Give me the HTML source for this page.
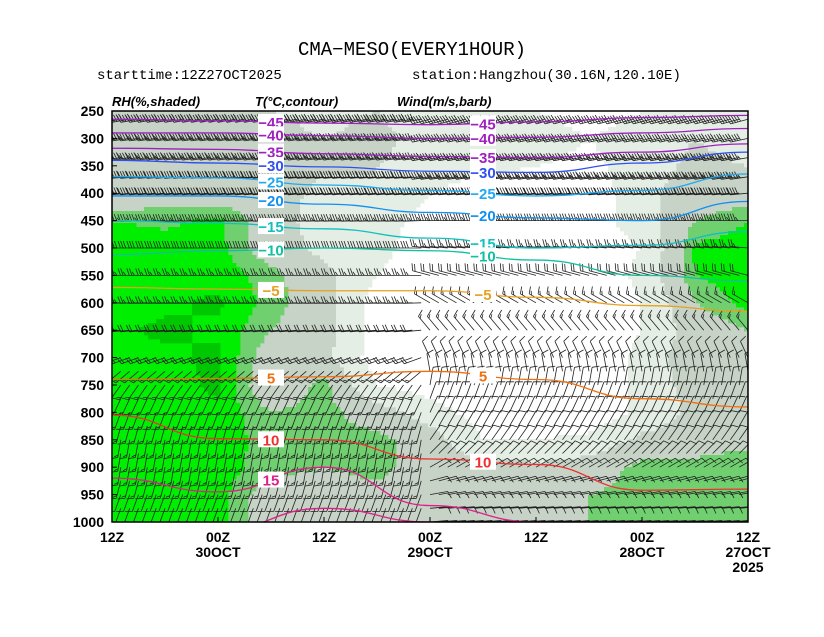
<!DOCTYPE html>
<html><head><meta charset="utf-8"><style>
body{margin:0;background:#fff;width:824px;height:637px;overflow:hidden}
svg{display:block}
text{font-family:"Liberation Mono",monospace}
.b{font-family:"Liberation Sans",sans-serif;font-weight:bold}
</style></head><body>
<svg id="c" width="824" height="637">
<defs><clipPath id="pc"><rect x="112" y="111" width="636" height="411"/></clipPath></defs>
<text x="412" y="55" text-anchor="middle" font-size="19">CMA−MESO(EVERY1HOUR)</text>
<text x="97" y="79" font-size="14">starttime:12Z27OCT2025</text>
<text x="412" y="79" font-size="14">station:Hangzhou(30.16N,120.10E)</text>
<text x="112" y="106" font-size="13" font-style="italic" class="b">RH(%,shaded)</text>
<text x="255" y="106" font-size="13" font-style="italic" class="b">T(°C,contour)</text>
<text x="397" y="106" font-size="13" font-style="italic" class="b">Wind(m/s,barb)</text>
<g clip-path="url(#pc)">
<g id="shade"></g>
<g id="barbs"></g>
<g id="cont"></g>
</g>
<rect x="112" y="111" width="636" height="411" fill="none" stroke="#000" stroke-width="1.5"/>
<g id="axes"></g>
</svg>
<script>
const levels=[250,300,350,400,450,500,550,600,650,700,750,800,850,900,950,1000];
const xTickLabels=[["12Z",""],["00Z","30OCT"],["12Z",""],["00Z","29OCT"],["12Z",""],["00Z","28OCT"],["12Z","27OCT","2025"]];
const rhHours=[72,66,60,54,48,42,36,30,24,18,12,6,0];
const rh=[
[50,60,55,55,80,85,86,86,88,86,86,86,86,85,85,85],
[50,60,55,60,78,84,86,88,92,88,86,86,86,85,85,85],
[55,55,55,60,82,84,86,92,88,92,92,88,86,85,85,85],
[50,60,72,65,60,60,75,75,70,60,55,70,75,75,60,60],
[40,50,55,40,40,45,55,60,60,55,75,75,75,70,60,60],
[50,60,50,50,40,35,30,20,20,20,30,60,75,75,65,60],
[30,35,40,30,20,20,20,20,20,20,20,40,60,60,60,60],
[40,45,35,20,20,20,20,15,15,15,15,20,30,60,60,55],
[30,40,30,20,20,20,20,15,15,15,15,15,30,55,60,60],
[20,30,25,15,20,20,15,15,15,15,15,15,35,60,70,70],
[30,40,40,45,40,30,35,30,30,35,35,35,55,75,75,70],
[40,50,55,60,70,82,80,70,60,65,60,55,60,75,80,70],
[35,40,50,60,80,86,86,84,70,70,70,60,65,80,80,75]];
const tHours=[0,12,24,36,48,60,72];
const tLevels=[-45,-40,-35,-30,-25,-20,-15,-10,-5,5,10,15,20];
const tPress=[
[258,262,270,275,272,268,265],
[282,290,298,300,295,290,290],
[310,325,335,333,328,320,318],
[325,345,362,360,352,345,340],
[365,395,405,395,385,372,370],
[415,450,445,435,420,405,405],
[470,495,500,482,465,455,450],
[560,550,522,505,500,505,512],
[615,605,590,578,578,575,572],
[790,775,740,725,735,738,740],
[940,942,895,885,850,848,805],
[1010,1010,1000,970,900,945,920],
[1030,1000,1010,1000,975,1030,1030]];
const tColors=["#a020c0","#a020c0","#a020c0","#3050f0","#20a8f0","#1090f0","#10c0c0","#10c0a0","#e8a020","#f07010","#f03030","#e0208a","#e0208a"];
const barbLevels=[265,300,335,370,400,450,500,550,600,650,700,725,750,775,800,825,850,875,900,925,950,975,1000];
const dirLeft=[260,262,262,265,265,268,270,270,268,265,250,230,215,205,200,195,190,190,190,195,200,200,200];
const dirRight=[255,258,260,262,265,270,275,285,300,320,335,350,10,20,25,30,35,45,60,75,80,85,85];
const spdLeft=[38,36,34,32,30,26,22,20,18,16,14,12,12,12,12,12,12,10,10,10,8,8,6];
const spdRight=[40,38,36,34,30,26,20,16,12,10,8,8,8,8,8,8,6,6,8,8,8,6,6];
const NS="http://www.w3.org/2000/svg";
const X=h=>748-h*636/72, Y=p=>111+(p-250)*411/750;
function mk(t,a,par){const e=document.createElementNS(NS,t);for(const k in a)e.setAttribute(k,a[k]);par.appendChild(e);return e;}
function col(v){return v>=90?"#00c800":v>=80?"#00ee00":v>=70?"#70d070":v>=50?"#c6d3c6":v>=30?"#e4eee4":"#ffffff";}
function rhAt(h,p){
 let fi=(72-h)/6, fj=(p-250)/50;
 fi=Math.max(0,Math.min(12,fi));fj=Math.max(0,Math.min(15,fj));
 const i0=Math.min(11,Math.floor(fi)),j0=Math.min(14,Math.floor(fj)),a=fi-i0,b=fj-j0;
 return rh[i0][j0]*(1-a)*(1-b)+rh[i0+1][j0]*a*(1-b)+rh[i0][j0+1]*(1-a)*b+rh[i0+1][j0+1]*a*b;
}
const sh=document.getElementById('shade');
const paths={};
const S=4;
for(let x=112;x<748;x+=S){for(let y=111;y<522;y+=S){
 const h=(748-(x+S/2))*72/636,p=250+((y+S/2)-111)*750/411;
 const c=col(rhAt(h,p));if(c==="#ffffff")continue;
 paths[c]=(paths[c]||"")+`M${x} ${y}h${S+0.4}v${S+0.4}h${-S-0.4}z`;
}}
for(const c in paths){const e=mk('path',{d:paths[c],fill:c},sh);
 
 }
const bg=document.getElementById('barbs');
let d="";
for(let h=0;h<=72;h++){barbLevels.forEach((p,j)=>{
 const f=h/72,dir=(f>0.5?dirLeft[j]:dirRight[j])*Math.PI/180,s=f>0.5?spdLeft[j]:spdRight[j];
 const x=X(h),y=Y(p),L=18,ux=Math.sin(dir),uy=-Math.cos(dir);
 const ex=x+ux*L,ey=y+uy*L;d+=`M${x.toFixed(1)} ${y.toFixed(1)}L${ex.toFixed(1)} ${ey.toFixed(1)}`;
 const px=-uy,py=ux;let n=Math.round(s/4),k=0;
 while(n>0&&k<7){const bx=ex-ux*k*2.6,by=ey-uy*k*2.6,len=n>=2?7:3.5;
  d+=`M${bx.toFixed(1)} ${by.toFixed(1)}l${((px*len+ux*2.5)).toFixed(1)} ${((py*len+uy*2.5)).toFixed(1)}`;n-=2;k++;}
});}
const bp=mk('path',{d:d,stroke:"#222",fill:"none","stroke-width":0.8},bg);


const cg=document.getElementById('cont');
tLevels.forEach((t,i)=>{
 const pts=tHours.map((h,k)=>[X(h),Math.min(530,Y(tPress[i][k]))]);
 let pd="M"+pts[0].join(" ");for(let k=1;k<pts.length;k++){const a=pts[k-1],b=pts[k],mx=(a[0]+b[0])/2;pd+=`C${mx} ${a[1]} ${mx} ${b[1]} ${b[0]} ${b[1]}`;}
 const pe=mk('path',{d:pd,stroke:tColors[i],fill:"none","stroke-width":1.3},cg);
 
 
 [2,4].forEach(k=>{const lx=(pts[k][0]+pts[k+1][0])/2,ly=(pts[k][1]+pts[k+1][1])/2;if(ly>512)return;
  const lab=(t<0?"−":"")+Math.abs(t);
  mk('rect',{x:lx-13,y:ly-8,width:26,height:16,fill:"#fff"},cg);
  const tx=mk('text',{x:lx,y:ly+6,"text-anchor":"middle","font-size":15,fill:tColors[i],class:"b"},cg);tx.textContent=lab;
  
  });
});
const ax=document.getElementById('axes');
levels.forEach(p=>{const t=mk('text',{x:104,y:Y(p)+5,"text-anchor":"end","font-size":14,class:"b"},ax);t.textContent=p;
 
 
 mk('line',{x1:112,x2:117,y1:Y(p),y2:Y(p),stroke:"#000"},ax);});
xTickLabels.forEach((l,i)=>{const x=X(72-i*12);mk('line',{x1:x,x2:x,y1:517,y2:522,stroke:"#000"},ax);
 l.forEach((s,k)=>{if(!s)return;const t=mk('text',{x:x,y:542+k*15,"text-anchor":"middle","font-size":14,class:"b"},ax);t.textContent=s;
 
 });});
</script>
</body></html>
